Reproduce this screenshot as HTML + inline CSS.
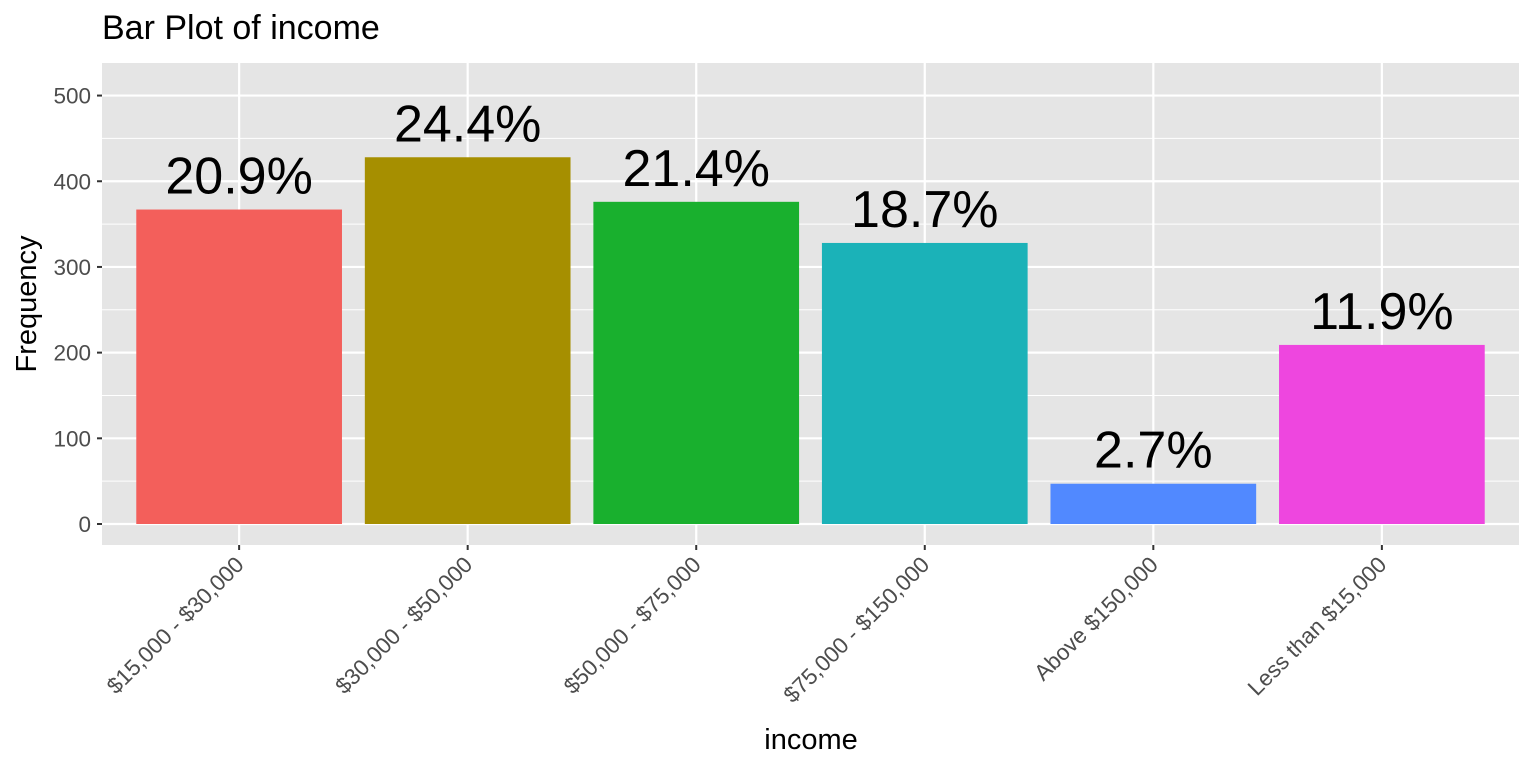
<!DOCTYPE html>
<html><head><meta charset="utf-8"><style>
body{margin:0;background:#fff;}
text{font-family:"Liberation Sans",Arial,sans-serif;}
</style></head><body>
<svg id="chart" width="1536" height="768" xmlns="http://www.w3.org/2000/svg">
<text x="102" y="39" font-size="34" fill="#000">Bar Plot of income</text>
<rect x="102" y="63" width="1417" height="482" fill="#e5e5e5"/>
<g id="grid"></g><g id="bars"></g><g id="axes"></g>
<text x="811" y="749" font-size="29" text-anchor="middle" fill="#000">income</text>
<text transform="translate(36,304) rotate(-90)" font-size="29" text-anchor="middle" fill="#000">Frequency</text>
</svg>
<script>
const categories=["$15,000 - $30,000","$30,000 - $50,000","$50,000 - $75,000","$75,000 - $150,000","Above $150,000","Less than $15,000"];
const counts=[367,428,376,328,47,209];
const colors=["#F35F5B","#A68F00","#19B02E","#1BB2B8","#5189FF","#EE46DF"];
const yTicks=[0,100,200,300,400,500];
const NS="http://www.w3.org/2000/svg";
const px0=102,px1=1519,py0=545,py1=63,ymin=-24.5,ymax=538;
const band=(px1-px0)/(categories.length+0.2);
function x(i){return px0+band*(0.6+i);}
function y(v){return py0-(v-ymin)/(ymax-ymin)*(py0-py1);}
function mk(t,a,p){const e=document.createElementNS(NS,t);for(const k in a)e.setAttribute(k,a[k]);p.appendChild(e);return e;}
const g=document.getElementById('grid'),b=document.getElementById('bars'),ax=document.getElementById('axes');
for(let i=0;i<yTicks.length-1;i++){const v=(yTicks[i]+yTicks[i+1])/2;
const l=mk('line',{x1:px0,x2:px1,y1:y(v),y2:y(v),stroke:'#fff','stroke-width':1},g);
}
yTicks.forEach(v=>{const l=mk('line',{x1:px0,x2:px1,y1:y(v),y2:y(v),stroke:'#fff','stroke-width':2.2},g);

const t=mk('line',{x1:px0-5,x2:px0,y1:y(v),y2:y(v),stroke:'#333','stroke-width':2},ax);

const tx=mk('text',{x:px0-11,y:y(v)+8,'font-size':22.5,'text-anchor':'end',fill:'#4d4d4d'},ax);tx.textContent=v;
});
const total=counts.reduce((a,c)=>a+c,0);
categories.forEach((c,i)=>{const cx=x(i);
const l=mk('line',{x1:cx,x2:cx,y1:py1,y2:py0,stroke:'#fff','stroke-width':2.2},g);

const w=band*0.9;
const r=mk('rect',{x:cx-w/2,y:y(counts[i]),width:w,height:y(0)-y(counts[i]),fill:colors[i]},b);

const p=mk('text',{x:cx,y:y(counts[i])-16,'font-size':52,'text-anchor':'middle',fill:'#000'},b);
p.textContent=(counts[i]/total*100).toFixed(1)+'%';

const t=mk('line',{x1:cx,x2:cx,y1:py0,y2:py0+5,stroke:'#333','stroke-width':2},ax);

const tx=mk('text',{transform:`translate(${cx+6},${py0+21}) rotate(-45)`,'font-size':22.5,'text-anchor':'end',fill:'#4d4d4d'},ax);
tx.textContent=c;
});
</script>
</body></html>
